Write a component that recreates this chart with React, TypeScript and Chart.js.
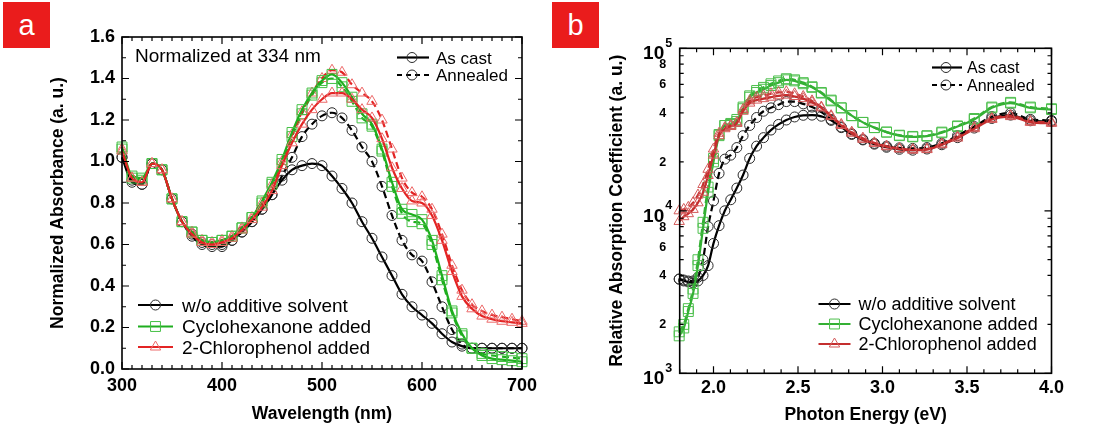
import React, { useEffect, useRef } from "react";
import { Chart, registerables } from "chart.js";

Chart.register(...registerables);

const FONT = "'Liberation Sans', Arial, sans-serif";

// ---------------- Panel a data (normalized absorbance vs wavelength) ----------------
const WAVELENGTH_NM = [300, 310, 320, 330, 340, 350, 360, 370, 380, 390, 400, 410, 420, 430, 440, 450, 460, 470, 480, 490, 500, 510, 520, 530, 540, 550, 560, 570, 580, 590, 600, 610, 620, 630, 640, 650, 660, 670, 680, 690, 700];

const A_WO_CAST = [1.02, 0.90, 0.89, 0.99, 0.96, 0.82, 0.71, 0.64, 0.60, 0.59, 0.59, 0.62, 0.66, 0.71, 0.77, 0.84, 0.91, 0.96, 0.98, 0.99, 0.98, 0.93, 0.87, 0.80, 0.71, 0.63, 0.54, 0.45, 0.36, 0.30, 0.26, 0.22, 0.17, 0.13, 0.11, 0.10, 0.10, 0.10, 0.10, 0.10, 0.10];
const A_WO_ANN = [1.02, 0.91, 0.89, 0.99, 0.96, 0.82, 0.71, 0.65, 0.61, 0.60, 0.60, 0.62, 0.66, 0.71, 0.77, 0.84, 0.93, 1.02, 1.12, 1.18, 1.22, 1.235, 1.21, 1.15, 1.07, 1.00, 0.88, 0.74, 0.62, 0.55, 0.52, 0.42, 0.30, 0.19, 0.12, 0.10, 0.10, 0.10, 0.10, 0.10, 0.10];
const A_CYC_CAST = [1.07, 0.93, 0.92, 0.99, 0.96, 0.82, 0.71, 0.66, 0.62, 0.61, 0.62, 0.64, 0.68, 0.73, 0.81, 0.90, 1.01, 1.14, 1.25, 1.33, 1.39, 1.42, 1.38, 1.31, 1.23, 1.18, 1.06, 0.90, 0.77, 0.745, 0.72, 0.62, 0.45, 0.28, 0.17, 0.10, 0.065, 0.05, 0.045, 0.04, 0.035];
const A_CYC_ANN = [1.06, 0.92, 0.91, 0.99, 0.96, 0.82, 0.71, 0.66, 0.62, 0.61, 0.62, 0.64, 0.68, 0.73, 0.80, 0.89, 0.99, 1.12, 1.23, 1.32, 1.38, 1.40, 1.36, 1.29, 1.21, 1.17, 1.05, 0.88, 0.75, 0.71, 0.70, 0.60, 0.43, 0.27, 0.16, 0.10, 0.075, 0.065, 0.06, 0.055, 0.05];
const A_CP_CAST = [1.05, 0.92, 0.90, 0.99, 0.96, 0.82, 0.71, 0.65, 0.61, 0.60, 0.61, 0.63, 0.67, 0.72, 0.78, 0.86, 0.98, 1.09, 1.18, 1.25, 1.30, 1.33, 1.33, 1.30, 1.25, 1.21, 1.11, 0.97, 0.87, 0.81, 0.80, 0.74, 0.62, 0.47, 0.35, 0.29, 0.255, 0.24, 0.23, 0.225, 0.22];
const A_CP_ANN = [1.06, 0.92, 0.90, 0.99, 0.96, 0.82, 0.71, 0.66, 0.62, 0.61, 0.62, 0.64, 0.68, 0.73, 0.80, 0.89, 1.00, 1.13, 1.24, 1.33, 1.40, 1.44, 1.43, 1.37, 1.33, 1.29, 1.20, 1.06, 0.92, 0.85, 0.83, 0.77, 0.65, 0.50, 0.38, 0.31, 0.28, 0.26, 0.25, 0.24, 0.23];

const A_X_TICKS = [300, 400, 500, 600, 700];
const A_Y_TICKS = [0.0, 0.2, 0.4, 0.6, 0.8, 1.0, 1.2, 1.4, 1.6];

// ---------------- Panel b data (relative absorption coefficient vs photon energy) ----------------
const PHOTON_EV = [1.797, 1.824, 1.851, 1.879, 1.908, 1.938, 1.968, 2.0, 2.033, 2.067, 2.102, 2.138, 2.175, 2.214, 2.255, 2.296, 2.34, 2.385, 2.431, 2.48, 2.531, 2.583, 2.638, 2.696, 2.756, 2.818, 2.884, 2.952, 3.024, 3.1, 3.179, 3.263, 3.351, 3.444, 3.543, 3.647, 3.758, 3.875, 4.0];

const B_WO_CAST = [3800, 3700, 3650, 3600, 3700, 4000, 4600, 6300, 8100, 10000, 11700, 13800, 16600, 21000, 25000, 28200, 31400, 34000, 36200, 37800, 38700, 38800, 38200, 36000, 32800, 29800, 27300, 25700, 24600, 23900, 23600, 24000, 25500, 28200, 32300, 37000, 38800, 35800, 35500];
const B_WO_ANN = [3800, 3750, 3700, 3700, 3900, 5000, 8000, 11500, 17000, 20800, 22000, 24500, 29000, 33500, 37500, 41000, 43000, 45000, 47000, 47000, 45500, 43500, 40500, 36500, 32500, 29500, 27500, 26000, 25000, 24400, 24200, 24500, 26000, 29000, 33000, 38000, 40000, 36500, 36000];
const B_CYC_CAST = [1700, 1900, 2400, 3100, 4600, 7800, 13000, 20000, 29000, 33500, 34000, 35500, 42500, 50000, 53500, 56000, 59000, 61500, 64000, 63000, 60500, 57500, 53000, 47500, 43000, 38500, 35000, 32500, 30500, 29000, 28500, 28800, 30200, 33000, 36500, 43000, 46000, 43000, 42000];
const B_CYC_ANN = [1800, 2000, 2500, 3300, 5000, 8500, 14000, 21000, 29500, 33500, 34500, 36500, 43500, 51000, 55000, 57500, 60500, 63000, 65000, 64000, 61500, 58000, 53500, 48000, 43000, 38500, 35000, 32500, 30500, 29200, 28700, 29000, 30500, 33300, 37000, 43500, 46500, 43500, 42500];
const B_CP_CAST = [8600, 9200, 9600, 10200, 11200, 13000, 16500, 22000, 29000, 32000, 33000, 34500, 41000, 46000, 48000, 49000, 50000, 51000, 51500, 50500, 49000, 46500, 43000, 38000, 33500, 30000, 27500, 26000, 24800, 24000, 23600, 23800, 25500, 28000, 32000, 36500, 38000, 35000, 34500];
const B_CP_ANN = [10000, 10200, 10500, 11200, 12500, 14500, 18000, 24000, 30000, 32500, 33500, 35000, 42000, 47500, 50000, 51000, 52500, 53500, 54000, 52500, 50500, 47500, 43500, 38500, 34000, 30500, 28000, 26200, 25000, 24200, 23800, 24000, 25800, 28500, 32500, 37000, 38500, 35500, 35000];

const B_X_TICKS = [2.0, 2.5, 3.0, 3.5, 4.0];
const B_Y_DECADES = [1000, 10000, 100000];
const B_Y_DECADE_EXP = ["3", "4", "5"];
const B_Y_MINOR_LABELS = [2, 4, 6, 8];

const SAMPLE_LABELS = ["w/o additive solvent", "Cyclohexanone added", "2-Chlorophenol added"];
const STATE_LABELS = ["As cast", "Annealed"];

// ---------------- styles ----------------
type Shape = "circle" | "rect" | "triangle";
const SHAPE_RADIUS: Record<Shape, number> = { circle: 5, rect: 7, triangle: 6 };

function drawMarker(ctx: CanvasRenderingContext2D, shape: Shape, x: number, y: number, color: string) {
  const r = SHAPE_RADIUS[shape];
  ctx.save();
  ctx.setLineDash([]);
  ctx.strokeStyle = color;
  ctx.lineWidth = 1;
  ctx.beginPath();
  if (shape === "circle") {
    ctx.arc(x, y, r, 0, Math.PI * 2);
  } else if (shape === "rect") {
    const h = Math.SQRT1_2 * r;
    ctx.rect(x - h, y - h, 2 * h, 2 * h);
  } else {
    let a = 0;
    ctx.moveTo(x + Math.sin(a) * r, y - Math.cos(a) * r);
    a += (2 * Math.PI) / 3;
    ctx.lineTo(x + Math.sin(a) * r, y - Math.cos(a) * r);
    a += (2 * Math.PI) / 3;
    ctx.lineTo(x + Math.sin(a) * r, y - Math.cos(a) * r);
    ctx.closePath();
  }
  ctx.stroke();
  ctx.restore();
}

type SeriesSpec = { data: number[]; line: string; marker: string; shape: Shape; dashed: boolean };

function makeDatasets(xs: number[], series: SeriesSpec[]) {
  return series.map((s, k) => ({
    label: "s" + k,
    data: xs.map((x, i) => ({ x, y: s.data[i] })),
    borderColor: s.line,
    borderWidth: 2.2,
    borderDash: s.dashed ? [7, 4] : [],
    pointStyle: s.shape,
    pointRadius: SHAPE_RADIUS[s.shape],
    pointBorderWidth: 1,
    pointBorderColor: s.marker,
    pointBackgroundColor: "rgba(0,0,0,0)",
    cubicInterpolationMode: "monotone",
    fill: false,
    clip: false,
  }));
}

type LegendRow = { text: string; line: string; marker: string; shape: Shape; dashed: boolean; y: number; base: number };
type LegendBlock = { x1: number; x2: number; mx: number; tx: number; font: string; rows: LegendRow[] };
type OverlaySpec = {
  xTicks: { v: number; major: boolean }[];
  yTicks: { v: number; major: boolean }[];
  texts: { text: string; x: number; y: number; font: string }[];
  legends: LegendBlock[];
  logLabels?: boolean;
};

function linTicks(min: number, max: number, step: number, majorEvery: number) {
  const out: { v: number; major: boolean }[] = [];
  const n = Math.round((max - min) / step);
  for (let i = 0; i <= n; i++) {
    const v = min + i * step;
    const r = v / majorEvery;
    out.push({ v, major: Math.abs(r - Math.round(r)) < 1e-6 });
  }
  return out;
}

function logTicks() {
  const out: { v: number; major: boolean }[] = [];
  for (const d of [1000, 10000]) {
    for (let k = 1; k <= 9; k++) out.push({ v: k * d, major: k === 1 });
  }
  out.push({ v: 100000, major: true });
  return out;
}

function overlayPlugin(spec: OverlaySpec) {
  return {
    id: "overlay",
    afterDraw(chart: any) {
      const ctx: CanvasRenderingContext2D = chart.ctx;
      const { left, right, top, bottom } = chart.chartArea;
      const xs = chart.scales.x;
      const ys = chart.scales.y;
      ctx.save();
      ctx.strokeStyle = "#000";
      ctx.lineWidth = 1.2;
      ctx.setLineDash([]);
      ctx.beginPath();
      for (const t of spec.xTicks) {
        const p = xs.getPixelForValue(t.v);
        const L = t.major ? 7 : 4;
        ctx.moveTo(p, bottom);
        ctx.lineTo(p, bottom - L);
        ctx.moveTo(p, top);
        ctx.lineTo(p, top + L);
      }
      for (const t of spec.yTicks) {
        const p = ys.getPixelForValue(t.v);
        const L = t.major ? 7 : 4;
        ctx.moveTo(left, p);
        ctx.lineTo(left + L, p);
        ctx.moveTo(right, p);
        ctx.lineTo(right - L, p);
      }
      ctx.stroke();
      ctx.lineWidth = 1.6;
      ctx.strokeRect(left, top, right - left, bottom - top);

      if (spec.logLabels) {
        ctx.fillStyle = "#000";
        B_Y_DECADES.forEach((d, i) => {
          const p = ys.getPixelForValue(d);
          ctx.font = `bold 19px ${FONT}`;
          ctx.textAlign = "right";
          ctx.textBaseline = "alphabetic";
          ctx.fillText("10", left - 15.5, p + 11);
          ctx.font = `bold 12.5px ${FONT}`;
          ctx.textAlign = "left";
          ctx.fillText(B_Y_DECADE_EXP[i], left - 14.5, p - 1.5);
        });
        ctx.font = `bold 12.5px ${FONT}`;
        ctx.textAlign = "right";
        ctx.textBaseline = "middle";
        for (const d of [1000, 10000]) {
          for (const k of B_Y_MINOR_LABELS) {
            const p = ys.getPixelForValue(k * d);
            ctx.fillText(String(k), left - 13.5, p + 0.5);
          }
        }
      }

      ctx.fillStyle = "#000";
      ctx.textAlign = "left";
      ctx.textBaseline = "alphabetic";
      for (const t of spec.texts) {
        ctx.font = t.font;
        ctx.fillText(t.text, t.x, t.y);
      }

      for (const lg of spec.legends) {
        for (const row of lg.rows) {
          ctx.save();
          ctx.strokeStyle = row.line;
          ctx.lineWidth = 2.2;
          ctx.setLineDash(row.dashed ? [5, 4] : []);
          ctx.beginPath();
          ctx.moveTo(lg.x1, row.y);
          ctx.lineTo(lg.x2, row.y);
          ctx.stroke();
          ctx.restore();
          drawMarker(ctx, row.shape, lg.mx, row.y, row.marker);
          ctx.fillStyle = "#000";
          ctx.font = lg.font;
          ctx.textAlign = "left";
          ctx.textBaseline = "alphabetic";
          ctx.fillText(row.text, lg.tx, row.base);
        }
      }
      ctx.restore();
    },
  };
}

const BLACK = { line: "#000000", marker: "#2a2a2a" };
const GREEN_A = { line: "#1fae1f", marker: "#45c045" };
const RED_A = { line: "#e32424", marker: "#ec6a6a" };
const GREEN_B = { line: "#34b034", marker: "#4cbf4c" };
const RED_B = { line: "#c42e2e", marker: "#d45a5a" };

function scaleTitle(text: string) {
  return { display: true, text, color: "#000", font: { family: FONT, size: 17.5, weight: "bold" }, padding: { top: 4, bottom: 4 } };
}

const TICK_FONT = { family: FONT, size: 18, weight: "bold" };

function configA(): any {
  const series: SeriesSpec[] = [
    { data: A_CP_CAST, ...RED_A, shape: "triangle", dashed: false },
    { data: A_CYC_CAST, ...GREEN_A, shape: "rect", dashed: false },
    { data: A_CP_ANN, ...RED_A, shape: "triangle", dashed: true },
    { data: A_CYC_ANN, ...GREEN_A, shape: "rect", dashed: true },
    { data: A_WO_CAST, ...BLACK, shape: "circle", dashed: false },
    { data: A_WO_ANN, ...BLACK, shape: "circle", dashed: true },
  ];
  const spec: OverlaySpec = {
    xTicks: linTicks(300, 700, 10, 100),
    yTicks: linTicks(0, 1.6, 0.1, 0.2),
    texts: [{ text: "Normalized at 334 nm", x: 135, y: 61.7, font: `19px ${FONT}` }],
    legends: [
      {
        x1: 397, x2: 429, mx: 412, tx: 436, font: `17px ${FONT}`,
        rows: [
          { text: STATE_LABELS[0], ...BLACK, shape: "circle", dashed: false, y: 57.5, base: 63.5 },
          { text: STATE_LABELS[1], ...BLACK, shape: "circle", dashed: true, y: 75, base: 81 },
        ],
      },
      {
        x1: 138, x2: 173, mx: 155.5, tx: 182, font: `19px ${FONT}`,
        rows: [
          { text: SAMPLE_LABELS[0], ...BLACK, shape: "circle", dashed: false, y: 305, base: 311.7 },
          { text: SAMPLE_LABELS[1], ...GREEN_A, shape: "rect", dashed: false, y: 326.5, base: 333.2 },
          { text: SAMPLE_LABELS[2], ...RED_A, shape: "triangle", dashed: false, y: 347, base: 353.5 },
        ],
      },
    ],
  };
  return {
    type: "line",
    data: { datasets: makeDatasets(WAVELENGTH_NM, series) },
    options: {
      animation: false,
      responsive: false,
      devicePixelRatio: 1,
      events: [],
      layout: { padding: { left: 44, top: 37, right: 26, bottom: 9 } },
      plugins: { legend: { display: false }, tooltip: { enabled: false } },
      scales: {
        x: {
          type: "linear",
          min: 300,
          max: 700,
          grid: { display: false, drawTicks: false },
          border: { display: false },
          afterBuildTicks: (s: any) => { s.ticks = A_X_TICKS.map((v) => ({ value: v })); },
          afterFit: (s: any) => { s.height = 60; },
          ticks: { color: "#000", padding: 6.5, maxRotation: 0, autoSkip: false, font: TICK_FONT, callback: (v: any) => String(Math.round(Number(v))) },
          title: scaleTitle("Wavelength (nm)"),
        },
        y: {
          type: "linear",
          min: 0,
          max: 1.6,
          grid: { display: false, drawTicks: false },
          border: { display: false },
          afterBuildTicks: (s: any) => { s.ticks = A_Y_TICKS.map((v) => ({ value: v })); },
          afterFit: (s: any) => { s.width = 78; },
          ticks: { color: "#000", padding: 7, autoSkip: false, font: TICK_FONT, callback: (v: any) => Number(v).toFixed(1) },
          title: scaleTitle("Normalized Absorbance (a. u.)"),
        },
      },
    },
    plugins: [overlayPlugin(spec)],
  };
}

function configB(): any {
  const series: SeriesSpec[] = [
    { data: B_CP_CAST, ...RED_B, shape: "triangle", dashed: false },
    { data: B_CP_ANN, ...RED_B, shape: "triangle", dashed: true },
    { data: B_CYC_CAST, ...GREEN_B, shape: "rect", dashed: false },
    { data: B_CYC_ANN, ...GREEN_B, shape: "rect", dashed: true },
    { data: B_WO_CAST, ...BLACK, shape: "circle", dashed: false },
    { data: B_WO_ANN, ...BLACK, shape: "circle", dashed: true },
  ];
  const spec: OverlaySpec = {
    xTicks: linTicks(1.8, 4.0, 0.1, 0.5),
    yTicks: logTicks(),
    texts: [],
    logLabels: true,
    legends: [
      {
        x1: 384, x2: 414, mx: 398, tx: 419, font: `16px ${FONT}`,
        rows: [
          { text: STATE_LABELS[0], ...BLACK, shape: "circle", dashed: false, y: 67.5, base: 73.3 },
          { text: STATE_LABELS[1], ...BLACK, shape: "circle", dashed: true, y: 85, base: 90.8 },
        ],
      },
      {
        x1: 270.5, x2: 302.5, mx: 286.5, tx: 310.5, font: `18px ${FONT}`,
        rows: [
          { text: SAMPLE_LABELS[0], ...BLACK, shape: "circle", dashed: false, y: 304, base: 310.3 },
          { text: SAMPLE_LABELS[1], ...GREEN_B, shape: "rect", dashed: false, y: 324, base: 330.3 },
          { text: SAMPLE_LABELS[2], ...RED_B, shape: "triangle", dashed: false, y: 344, base: 350.3 },
        ],
      },
    ],
  };
  return {
    type: "line",
    data: { datasets: makeDatasets(PHOTON_EV, series) },
    options: {
      animation: false,
      responsive: false,
      devicePixelRatio: 1,
      events: [],
      layout: { padding: { left: 54.5, top: 48.3, right: 44.5, bottom: 8.5 } },
      plugins: { legend: { display: false }, tooltip: { enabled: false } },
      scales: {
        x: {
          type: "linear",
          min: 1.8,
          max: 4.0,
          grid: { display: false, drawTicks: false },
          border: { display: false },
          afterBuildTicks: (s: any) => { s.ticks = B_X_TICKS.map((v) => ({ value: v })); },
          afterFit: (s: any) => { s.height = 56.2; },
          ticks: { color: "#000", padding: 4, maxRotation: 0, autoSkip: false, font: TICK_FONT, callback: (v: any) => Number(v).toFixed(1) },
          title: scaleTitle("Photon Energy (eV)"),
        },
        y: {
          type: "logarithmic",
          min: 1000,
          max: 100000,
          grid: { display: false, drawTicks: false },
          border: { display: false },
          afterFit: (s: any) => { s.width = 77.2; },
          ticks: { display: false },
          title: scaleTitle("Relative Absorption Coefficient (a. u.)"),
        },
      },
    },
    plugins: [overlayPlugin(spec)],
  };
}

function boxStyle(left: number): React.CSSProperties {
  return {
    position: "absolute",
    left,
    top: 2,
    width: 47,
    height: 46,
    background: "#ea1c1c",
    color: "#ffffff",
    fontFamily: FONT,
    fontSize: 29,
    lineHeight: "46px",
    textAlign: "center",
  };
}

export default function App() {
  const refA = useRef<HTMLCanvasElement>(null);
  const refB = useRef<HTMLCanvasElement>(null);
  useEffect(() => {
    const a = new Chart(refA.current as HTMLCanvasElement, configA());
    const b = new Chart(refB.current as HTMLCanvasElement, configB());
    return () => {
      a.destroy();
      b.destroy();
    };
  }, []);
  return (
    <div style={{ position: "absolute", left: 0, top: 0, width: 1096, height: 438, background: "#fff", overflow: "hidden" }}>
      <canvas ref={refA} width={548} height={438} style={{ position: "absolute", left: 0, top: 0, width: 548, height: 438 }} />
      <canvas ref={refB} width={548} height={438} style={{ position: "absolute", left: 548, top: 0, width: 548, height: 438 }} />
      <div style={boxStyle(3)}>a</div>
      <div style={boxStyle(552)}>b</div>
    </div>
  );
}
